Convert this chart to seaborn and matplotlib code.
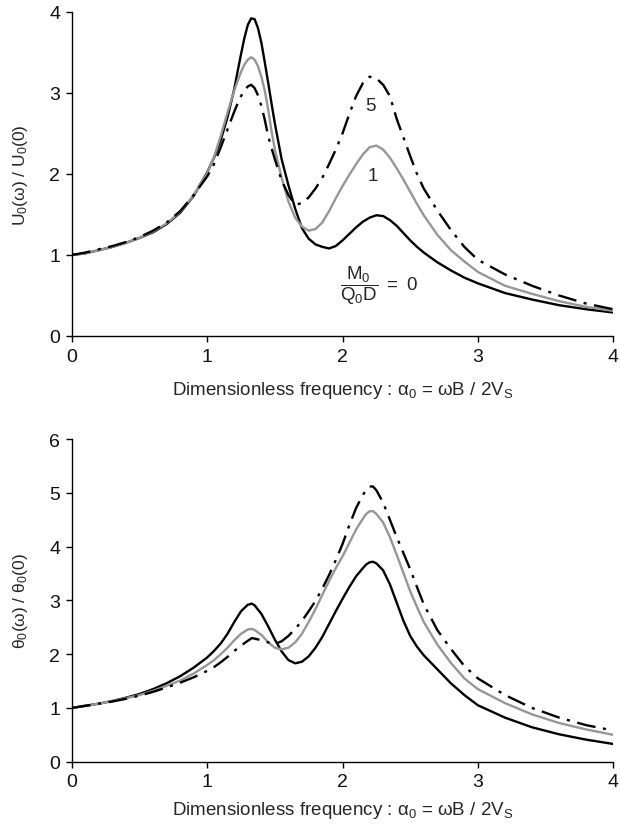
import numpy as np
import pandas as pd
import matplotlib
matplotlib.use("Agg")
import matplotlib.pyplot as plt
import seaborn as sns

# ---- data: normalised responses vs dimensionless frequency ----
alpha_top = [0.0, 0.1, 0.2, 0.3, 0.4, 0.5, 0.6, 0.7, 0.8, 0.9, 1.0,
             1.05, 1.1, 1.15, 1.2,
             1.225, 1.25, 1.275, 1.3, 1.325, 1.35, 1.375, 1.4, 1.425, 1.45, 1.475, 1.5,
             1.55, 1.6, 1.65, 1.7, 1.75, 1.8, 1.85, 1.9, 1.95, 2.0, 2.05, 2.1,
             2.15, 2.2, 2.25, 2.3, 2.35, 2.4, 2.45, 2.5, 2.55, 2.6,
             2.7, 2.8, 2.9, 3.0, 3.2, 3.4, 3.6, 3.8, 4.0]

u_m0 = [1.00, 1.02, 1.06, 1.10, 1.15, 1.21, 1.28, 1.38, 1.52, 1.73, 2.02,
        2.20, 2.42, 2.70, 3.05,
        3.27, 3.48, 3.68, 3.84, 3.92, 3.91, 3.80, 3.62, 3.38, 3.13, 2.87, 2.62,
        2.18, 1.86, 1.57, 1.33, 1.20, 1.13, 1.10, 1.08, 1.11, 1.18, 1.26, 1.34,
        1.41, 1.46, 1.49, 1.48, 1.43, 1.36, 1.27, 1.18, 1.10, 1.03,
        0.91, 0.81, 0.72, 0.65, 0.53, 0.45, 0.38, 0.33, 0.29]

u_m1 = [1.00, 1.02, 1.06, 1.10, 1.15, 1.21, 1.29, 1.39, 1.53, 1.74, 2.01,
        2.21, 2.47, 2.76, 3.03,
        3.15, 3.26, 3.35, 3.41, 3.44, 3.41, 3.33, 3.20, 3.03, 2.80, 2.53, 2.30,
        1.95, 1.66, 1.46, 1.35, 1.30, 1.32, 1.40, 1.54, 1.70, 1.85, 1.99, 2.12,
        2.24, 2.33, 2.35, 2.30, 2.20, 2.07, 1.93, 1.78, 1.63, 1.49,
        1.25, 1.06, 0.92, 0.79, 0.62, 0.52, 0.43, 0.36, 0.31]

u_m5 = [1.00, 1.03, 1.07, 1.11, 1.16, 1.22, 1.30, 1.40, 1.54, 1.74, 1.97,
        2.12, 2.33, 2.55, 2.77,
        2.87, 2.96, 3.03, 3.08, 3.10, 3.06, 2.97, 2.84, 2.67, 2.47, 2.32, 2.18,
        1.92, 1.74, 1.62, 1.64, 1.71, 1.82, 1.95, 2.12, 2.30, 2.50, 2.74, 2.96,
        3.12, 3.20, 3.18, 3.10, 2.96, 2.68, 2.45, 2.22, 2.00, 1.82,
        1.55, 1.31, 1.10, 0.94, 0.76, 0.62, 0.50, 0.40, 0.33]

alpha_bot = [0.0, 0.1, 0.2, 0.3, 0.4, 0.5, 0.6, 0.7, 0.8, 0.9, 1.0,
             1.05, 1.1, 1.15, 1.2, 1.25, 1.3, 1.33, 1.35, 1.4, 1.45, 1.5, 1.55,
             1.6, 1.65, 1.7, 1.75, 1.8, 1.85, 1.9, 1.95, 2.0, 2.05, 2.1, 2.15,
             2.175, 2.2, 2.225, 2.25, 2.3, 2.35, 2.4, 2.45, 2.5, 2.55, 2.6,
             2.7, 2.8, 2.9, 3.0, 3.2, 3.4, 3.6, 3.8, 4.0]

th_m0 = [1.00, 1.04, 1.08, 1.13, 1.19, 1.26, 1.35, 1.46, 1.59, 1.75, 1.94,
         2.06, 2.20, 2.38, 2.60, 2.80, 2.92, 2.94, 2.91, 2.75, 2.52, 2.27, 2.05,
         1.89, 1.83, 1.86, 1.96, 2.12, 2.32, 2.56, 2.80, 3.03, 3.25, 3.45, 3.60,
         3.67, 3.71, 3.72, 3.69, 3.56, 3.30, 2.96, 2.62, 2.34, 2.14, 1.98,
         1.72, 1.46, 1.24, 1.05, 0.82, 0.64, 0.51, 0.41, 0.33]

th_m1 = [1.00, 1.04, 1.08, 1.13, 1.18, 1.24, 1.32, 1.41, 1.51, 1.64, 1.80,
         1.89, 2.00, 2.12, 2.26, 2.38, 2.46, 2.47, 2.45, 2.36, 2.22, 2.12, 2.09,
         2.12, 2.22, 2.38, 2.60, 2.84, 3.10, 3.36, 3.60, 3.82, 4.07, 4.32, 4.52,
         4.61, 4.66, 4.66, 4.61, 4.45, 4.18, 3.85, 3.51, 3.17, 2.88, 2.60,
         2.18, 1.84, 1.55, 1.35, 1.09, 0.88, 0.72, 0.60, 0.50]

th_m5 = [1.00, 1.04, 1.08, 1.12, 1.17, 1.23, 1.30, 1.38, 1.47, 1.57, 1.69,
         1.76, 1.85, 1.95, 2.06, 2.16, 2.25, 2.30, 2.29, 2.26, 2.22, 2.19, 2.24,
         2.34, 2.47, 2.62, 2.80, 2.99, 3.22, 3.47, 3.75, 4.05, 4.40, 4.72, 4.96,
         5.06, 5.12, 5.12, 5.05, 4.82, 4.50, 4.18, 3.88, 3.58, 3.25, 2.93,
         2.45, 2.10, 1.78, 1.55, 1.24, 1.00, 0.82, 0.68, 0.58]

series_names = ["0", "1", "5"]
top_curves = [u_m0, u_m1, u_m5]
bot_curves = [th_m0, th_m1, th_m5]
x_ticks = [0, 1, 2, 3, 4]
top_yticks = [0, 1, 2, 3, 4]
bot_yticks = [0, 1, 2, 3, 4, 5, 6]

# ---- style ----
sns.set_style("ticks")
plt.rcParams["font.family"] = ["Liberation Sans", "DejaVu Sans"]
plt.rcParams["mathtext.fontset"] = "custom"
plt.rcParams["mathtext.rm"] = "Liberation Sans"
plt.rcParams["mathtext.it"] = "Liberation Sans:italic"
plt.rcParams["mathtext.bf"] = "Liberation Sans:bold"

line_styles = {
    "0": dict(color="black", linestyle="-"),
    "1": dict(color="#969696", linestyle="-"),
    "5": dict(color="black", linestyle=(0, (8, 3.2, 1.3, 3.2))),
}

fig = plt.figure(figsize=(6.2, 8.29), dpi=100)
ax_top = fig.add_axes([0.116, 0.5935, 0.873, 0.391])
ax_bot = fig.add_axes([0.116, 0.080, 0.873, 0.389])

top_df = pd.DataFrame({
    "alpha": np.tile(alpha_top, 3),
    "value": np.concatenate(top_curves),
    "ratio": np.repeat(series_names, len(alpha_top)),
})
bot_df = pd.DataFrame({
    "alpha": np.tile(alpha_bot, 3),
    "value": np.concatenate(bot_curves),
    "ratio": np.repeat(series_names, len(alpha_bot)),
})

for ax, df in [(ax_top, top_df), (ax_bot, bot_df)]:
    for name in ["0", "1", "5"]:
        sub = df[df["ratio"] == name]
        sns.lineplot(data=sub, x="alpha", y="value", ax=ax, lw=1.7,
                     estimator=None, sort=False, legend=False,
                     solid_joinstyle="round", dash_capstyle="butt",
                     **line_styles[name])

xlabel = "Dimensionless frequency : α$_\\mathrm{0}$ = ωB / 2V$_\\mathrm{S}$"

panels = [
    (ax_top, top_yticks, "U$_\\mathrm{0}$(ω) / U$_\\mathrm{0}$(0)", 10),
    (ax_bot, bot_yticks, "θ$_\\mathrm{0}$(ω) / θ$_\\mathrm{0}$(0)", 6),
]
for ax, yt, ylab, xpad in panels:
    ax.set_xlim(0, 4)
    ax.set_ylim(yt[0], yt[-1])
    ax.set_xticks(x_ticks)
    ax.set_yticks(yt)
    ax.set_xticklabels([str(t) for t in x_ticks])
    ax.set_yticklabels([str(t) for t in yt])
    ax.tick_params(direction="out", length=4, width=1.0, color="black",
                   labelsize=14, pad=4.5, labelcolor="#111111")
    ax.set_xlabel(xlabel, fontsize=13.5, labelpad=xpad)
    ax.set_ylabel(ylab, fontsize=12.5, labelpad=14)
    sns.despine(ax=ax)
    for sp in ["left", "bottom"]:
        ax.spines[sp].set_linewidth(1.0)
        ax.spines[sp].set_color("black")

# curve annotations in the upper panel
ax_top.text(2.204, 2.84, "5", fontsize=13.5, ha="center", va="center")
ax_top.text(2.224, 1.98, "1", fontsize=13.5, ha="center", va="center")
ax_top.text(2.27, 0.64, r"$\dfrac{\mathrm{M_0}}{\mathrm{Q_0D}}\ \mathrm{=\ 0}$",
            fontsize=13.5, ha="center", va="center")

fig.savefig("out.png", dpi=100)
